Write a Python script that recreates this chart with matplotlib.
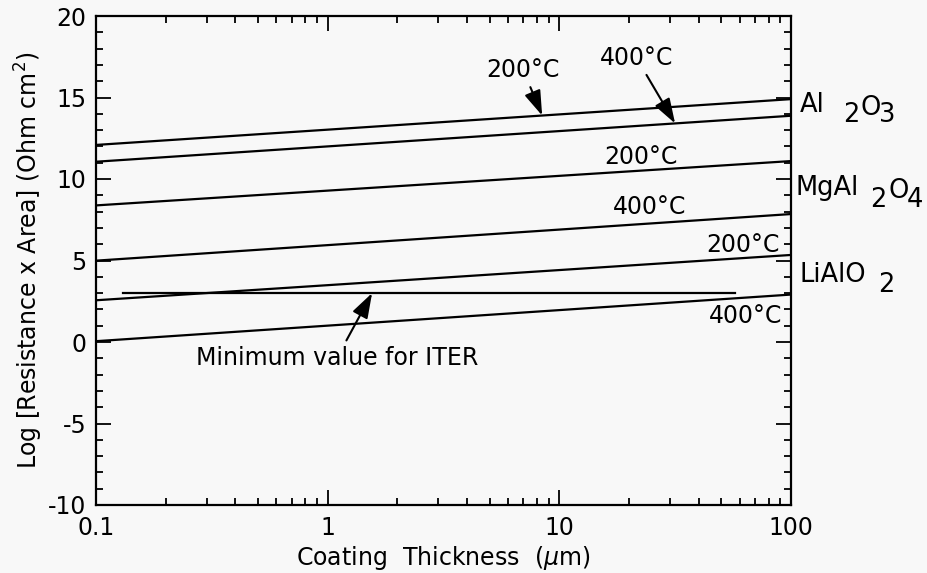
import numpy as np
import matplotlib
matplotlib.use("Agg")
import matplotlib.pyplot as plt
from matplotlib.ticker import FixedLocator, NullFormatter, LogLocator

plt.rcParams['font.family'] = ['DejaVu Sans']

# Coating thickness range (µm) spanned by each curve
thickness = [0.1, 100]

# log10(resistance x area) at the two ends of each curve
al2o3_200 = [12.09, 14.90]
al2o3_400 = [11.06, 13.88]
mgal2o4_200 = [8.38, 11.10]
mgal2o4_400 = [4.99, 7.85]
lialo2_200 = [2.56, 5.34]
lialo2_400 = [0.05, 2.91]

# ITER minimum requirement
iter_thickness = [0.131, 57.3]
iter_min = [3.0, 3.0]

curves = [al2o3_200, al2o3_400, mgal2o4_200, mgal2o4_400, lialo2_200, lialo2_400]

W, H = 927, 573
fig = plt.figure(figsize=(W / 100, H / 100), dpi=100)
bg = '#f8f8f8'
fig.patch.set_facecolor(bg)
ax = fig.add_axes([96 / W, 1 - 505 / H, (791 - 96) / W, (505 - 16) / H])
ax.set_facecolor(bg)

for c in curves:
    ax.plot(thickness, c, color='black', lw=1.6)
ax.plot(iter_thickness, iter_min, color='black', lw=1.6)

ax.set_xscale('log')
ax.set_xlim(0.1, 100)
ax.set_ylim(-10, 20)
ax.set_xticks([0.1, 1, 10, 100])
ax.set_xticklabels(['0.1', '1', '10', '100'])
ax.xaxis.set_minor_locator(LogLocator(base=10, subs=np.arange(2, 10)))
ax.xaxis.set_minor_formatter(NullFormatter())
ax.set_yticks([-10, -5, 0, 5, 10, 15, 20])
ax.set_yticklabels(['-10', '-5', '0', '5', '10', '15', '20'])
ax.yaxis.set_minor_locator(FixedLocator(np.arange(-10, 21, 1)))

ax.tick_params(which='both', direction='in', top=True, right=True,
               labelsize=17, width=1.3)
ax.tick_params(axis='x', pad=8)
ax.tick_params(axis='y', pad=7)
ax.tick_params(which='major', length=11)
ax.tick_params(which='minor', length=5)
for s in ax.spines.values():
    s.set_linewidth(1.6)

ax.set_xlabel(r'Coating  Thickness  ($\mu$m)', fontsize=17, labelpad=3)
ax.set_ylabel(r'Log [Resistance x Area] (Ohm cm$^2$)', fontsize=17, labelpad=2)


def on_curve(c, x):
    """Value of a curve (straight in log-x) at thickness x."""
    t = (np.log10(x) - np.log10(thickness[0])) / (np.log10(thickness[1]) - np.log10(thickness[0]))
    return c[0] + t * (c[1] - c[0])


arrow = dict(arrowstyle='-|>,head_length=0.9,head_width=0.3', color='black', lw=1.5,
             shrinkA=2, shrinkB=0)
fs = 17

ax.annotate('200°C', xy=(8.43, on_curve(al2o3_200, 8.43)), xytext=(6.98, 16.7),
            ha='center', va='center', fontsize=fs, arrowprops=arrow)
ax.annotate('400°C', xy=(31.6, on_curve(al2o3_400, 31.6)), xytext=(21.5, 17.44),
            ha='center', va='center', fontsize=fs, arrowprops=arrow)
ax.annotate('Minimum value for ITER', xy=(1.555, iter_min[0]), xytext=(1.098, -0.96),
            ha='center', va='center', fontsize=fs, arrowprops=arrow)

ax.text(22.5, 11.33, '200°C', ha='center', va='center', fontsize=fs)
ax.text(24.4, 8.30, '400°C', ha='center', va='center', fontsize=fs)
ax.text(62.2, 5.96, '200°C', ha='center', va='center', fontsize=fs)
ax.text(63.4, 1.57, '400°C', ha='center', va='center', fontsize=fs)


def ftext(px, py, s):
    fig.text(px / W, 1 - py / H, s, ha='left', va='baseline', fontsize=18.5)


# compound names beside the right axis
ftext(800, 112, 'Al')
ftext(843, 122, '2')
ftext(860, 115, 'O')
ftext(879, 122, '3')

ftext(795, 195, 'MgAl')
ftext(870, 207, '2')
ftext(888, 198, 'O')
ftext(907, 207, '4')

ftext(800, 282, 'LiAlO')
ftext(878, 292, '2')

fig.savefig('out.png', dpi=100, facecolor=bg)
